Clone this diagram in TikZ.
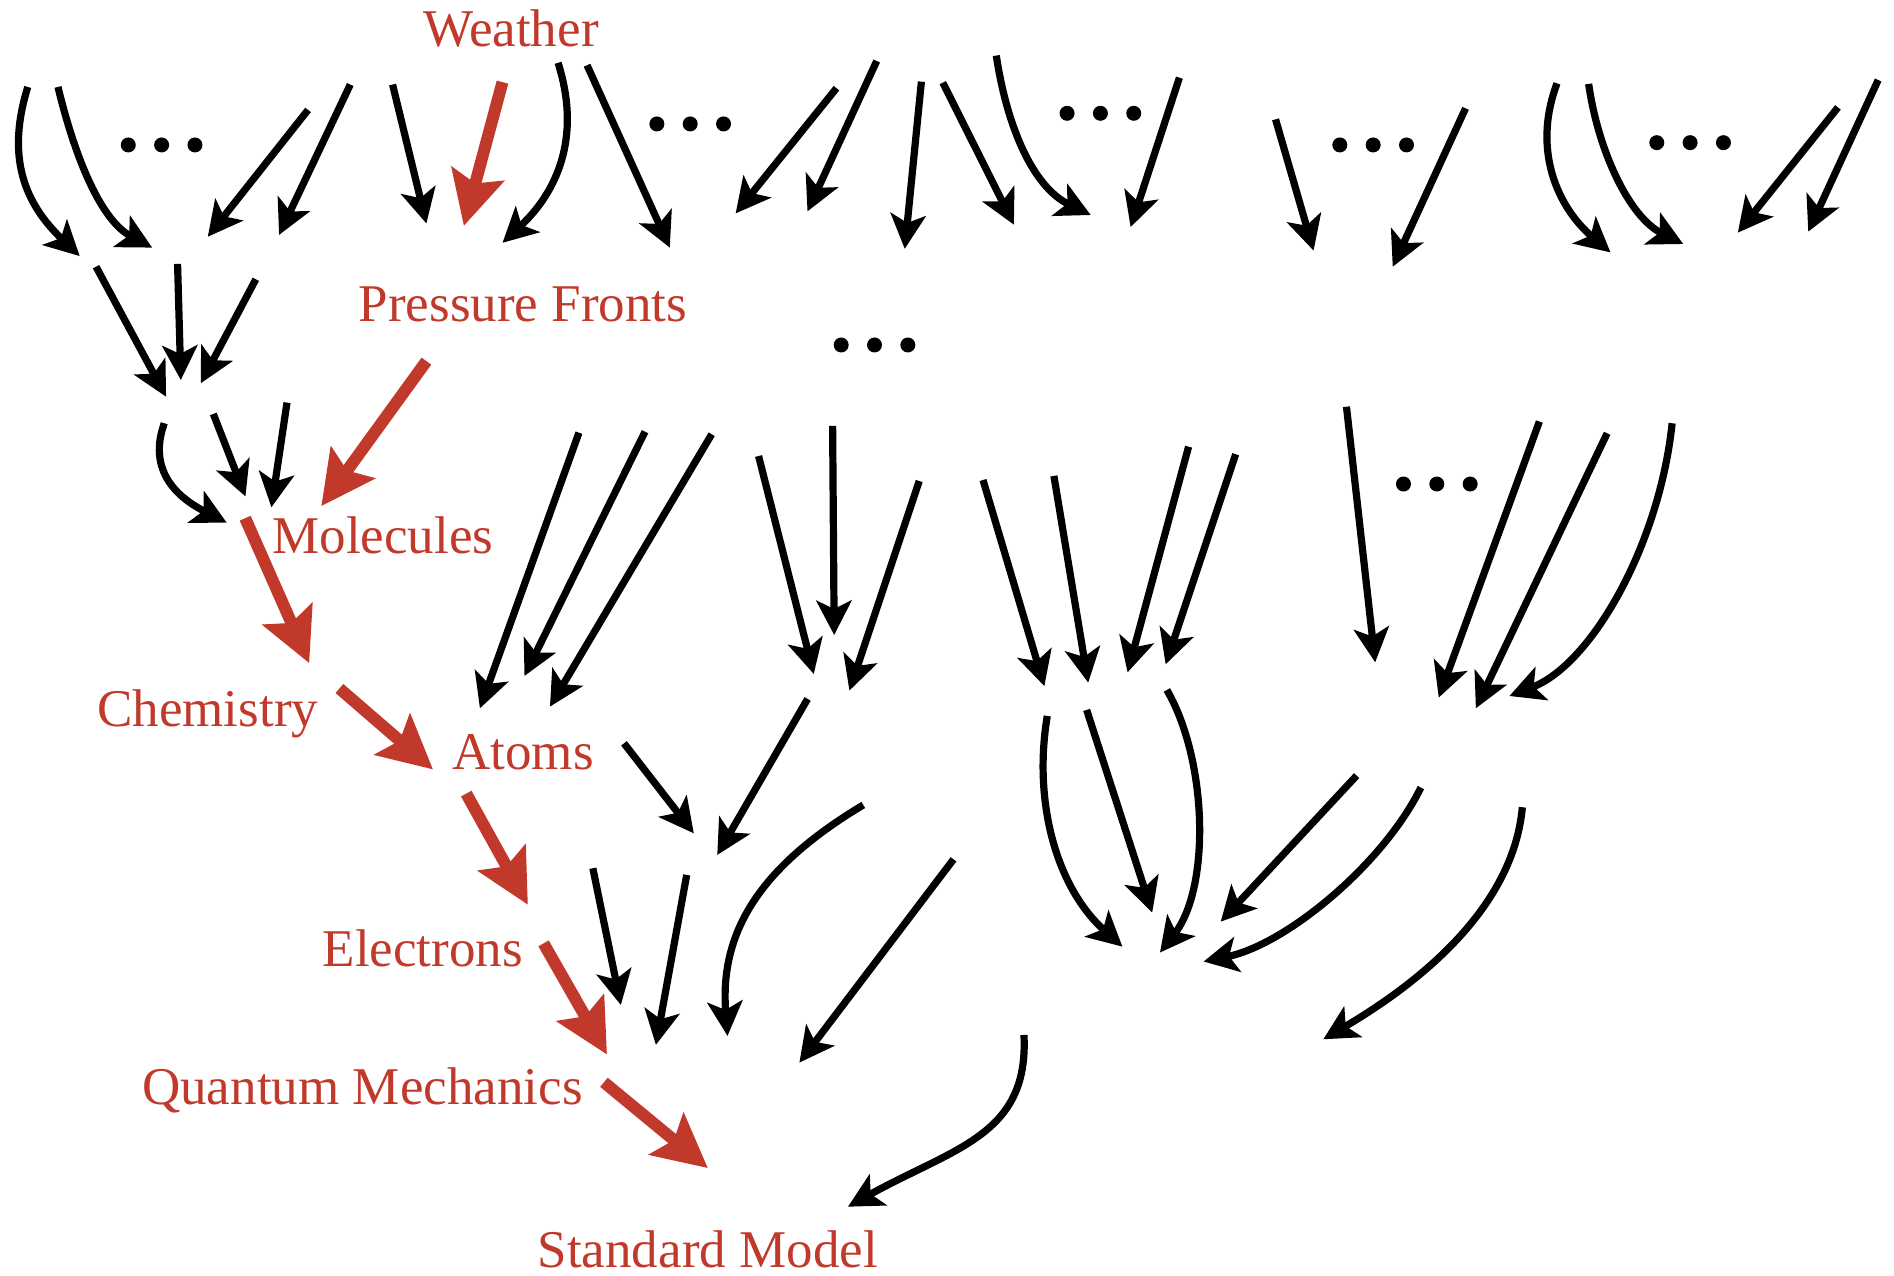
\documentclass[tikz,border=0pt]{standalone}
\usepackage{fontspec}
\setmainfont{Liberation Serif}
\usetikzlibrary{arrows.meta}
\definecolor{labred}{HTML}{C0392B}
\tikzset{
  blk/.style={line width=2.05pt, -{Stealth[length=9.8pt,width=10pt,inset=2.4pt]}},
  redarrow/.style={labred, line width=3.4pt, -{Stealth[length=15.2pt,width=15.2pt,inset=2.7pt]}},
  lbl/.style={text=labred, font=\fontsize{15.1pt}{18pt}\selectfont, inner sep=0pt, anchor=base},
  ell/.style={fill=black}
}
\begin{document}
\begin{tikzpicture}[x=0.01208cm, y=-0.01208cm]
\useasboundingbox (0,0) rectangle (1568,1056);

% labels of the highlighted chain
\node[lbl] (weather)   at (423,38.6)   {Weather};
\node[lbl] (pressure)  at (433,266.3)  {Pressure Fronts};
\node[lbl] (molecules) at (317,458)    {Molecules};
\node[lbl] (chemistry) at (172,601.5)  {Chemistry};
\node[lbl] (atoms)     at (433,636.9)  {Atoms};
\node[lbl] (electrons) at (350,800.2)  {Electrons};
\node[lbl] (qm)        at (300,914)    {Quantum Mechanics};
\node[lbl] (sm)        at (586,1049.5) {Standard Model};

% straight black arrows
\foreach \n/\ax/\ay/\bx/\by in {
  a3/255/91/172/196, a4/290/70/231/194.5, b1/325/70/353/185, b3/486/54/554.5/205,
  c1/692.5/73/609/176.7, c2/725.8/50.5/668.5/175, c3/762.8/67.6/749/206,
  c4/780.5/68.4/839.4/186, c6/976.4/64.3/936/188, d1/1056/98.8/1087.5/207.5,
  d2/1213.3/89.7/1153/220.8, d5/1521.6/88.9/1438.7/192.6, d6/1554.9/66.2/1497/191.8,
  e1/79.5/220.8/137.5/328.4, e2/147/218.5/149.7/314.6, e3/211.8/231.2/166.2/317.3,
  f2/176.6/342.7/203.2/411, f3/237.6/333.3/224.7/420,
  g1/479.3/358.2/397.3/586.4, g2/534/357.4/434.2/559.6, g3/589.2/359.5/455.3/585,
  h1/628/377.5/673.7/558, h2/689.3/352.6/690.6/525.7, h3/761/398.2/703.2/571.7,
  i1/813.8/397.4/864.6/568, i2/872.5/394/900.9/565.1, i3/984/369.8/933.5/556.6,
  i4/1023/376/965/550, j1/1114.7/336.7/1138.5/548.3, j2/1274.4/349/1191.1/577.5,
  j3/1330.5/358.7/1221.8/586.4, k1/516.6/615.4/574.4/689.9, k2/668.6/578.6/593.8/707.8,
  l1/490.8/718.8/514/832, l2/568.5/724.3/543/865, l4/789.4/711.4/661.8/879.7,
  n2/899.6/587.7/953.9/755.5, n4/1123.1/642.1/1010.6/763}
{
  \coordinate (\n-s) at (\ax,\ay);
  \coordinate (\n-e) at (\bx,\by);
  \draw[blk] (\n-s) -- (\n-e);
}

% curved black arrows
\foreach \n/\ax/\ay/\px/\py/\qx/\qy/\bx/\by in {
  a1/23/72/5/130/20/168/66/212,
  a2/48/72/60/122/81/181/126/205,
  b2/462/52/482/115/460/160/416/201,
  c5/824.8/46/833/101/853.5/154/903/178,
  d3/1289/69/1268/125/1290/172/1333.3/209,
  d4/1315.2/69.5/1323/124.5/1348.5/179.5/1393.5/202,
  f1/136/350.4/120/395/155/416/187.7/432.7,
  j4/1384.3/350.4/1374/450/1318/550/1249.6/576.2,
  l3/714.7/666.4/625/720/596/775/602.3/857.6,
  m1/847.7/856.8/852/940/790/950/702/999,
  n1/867/592.7/855/665/875/735/929.2/783.7,
  n3/966/571.2/1000/630/1002/735/960.3/788.6,
  n5/1176.3/652/1145.5/715/1065/782/996.4/796,
  n6/1260.3/668.3/1253/750/1178/812/1095.5/860.4}
{
  \coordinate (\n-s) at (\ax,\ay);
  \coordinate (\n-e) at (\bx,\by);
  \draw[blk] (\n-s) .. controls (\px,\py) and (\qx,\qy) .. (\n-e);
}

% highlighted chain
\foreach \n/\ax/\ay/\bx/\by in {
  r1/416/68/384/187, r2/353/299/266/419, r3/203/429/256/549,
  r4/281/570/358.5/637, r5/386/657/437/749, r6/450/781/502.5/873,
  r7/500/896/586/967}
{
  \coordinate (\n-s) at (\ax,\ay);
  \coordinate (\n-e) at (\bx,\by);
  \draw[redarrow] (\n-s) -- (\n-e);
}

% ellipsis marks
\foreach \cx/\cy in {133.8/120, 571.4/102.6, 911/93.8, 1136.8/120,
                     1399.2/118.1, 724/285.6, 1189.5/400.7}
{
  \foreach \k in {-1,0,1}
    \fill[ell] ({\cx+\k*27.6},\cy) circle[radius=0.075cm];
}
\end{tikzpicture}
\end{document}
